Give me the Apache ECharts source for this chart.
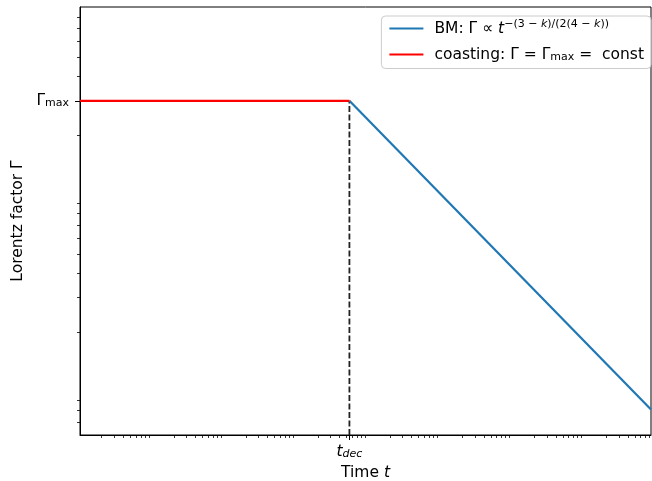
<!DOCTYPE html>
<html><head><meta charset="utf-8">
<script src="https://cdn.jsdelivr.net/npm/echarts@6/dist/echarts.min.js"></script>
<style>html,body{margin:0;padding:0;background:#fff}#c{width:652px;height:481px}</style>
</head><body><div id="c"></div>
<script>
// ---- data ----
const xRange = [1, 8.36e7];
const yRange = [6, 900];
const tDec = 5.47e3;
const gammaMax = 300;
const coastingT = [1, 5.47e3];
const coastingG = [300, 300];
const bmT = [5.47e3, 8.36e7];
const bmG = [300, 8.08];
const decLineT = [5.47e3, 5.47e3];
const decLineG = [6, 300];
const xMinorTicks = [
  2,3,4,5,6,7,8,9,
  20,30,40,50,60,70,80,90,
  200,300,400,500,600,700,800,900,
  2e3,3e3,4e3,5e3,6e3,7e3,8e3,9e3,
  2e4,3e4,4e4,5e4,6e4,7e4,8e4,9e4,
  2e5,3e5,4e5,5e5,6e5,7e5,8e5,9e5,
  2e6,3e6,4e6,5e6,6e6,7e6,8e6,9e6,
  2e7,3e7,4e7,5e7,6e7,7e7,8e7
];
const yMinorTicks = [7,8,9,20,30,40,50,60,70,80,90,200,400,500,600,700,800];
const xMajorTicks = [tDec];
const yMajorTicks = [gammaMax];

const FONT = 'DejaVu Sans';
const FS = 15.5;
const FSS = 11;
const pairs = (a, b) => a.map((v, i) => [v, b[i]]);

const chart = echarts.init(document.getElementById('c'), null, {renderer: 'canvas'});
const baseLog = {
  type: 'log', logBase: 10, min: xRange[0], max: xRange[1],
  splitLine: {show: false}, minorTick: {show: false}, minorSplitLine: {show: false}
};
chart.setOption({
  animation: false,
  backgroundColor: '#fff',
  grid: {left: 80, top: 7, right: 1, bottom: 46, containLabel: false, outerBoundsMode: 'none',
         show: true, borderColor: '#000', borderWidth: 1, backgroundColor: 'transparent'},
  legend: {
    data: ['BM', 'coasting'],
    orient: 'vertical', right: 1, top: 16,
    backgroundColor: 'rgba(255,255,255,0.8)',
    borderColor: '#cccccc', borderWidth: 1, borderRadius: 4,
    padding: [3, 7, 6, 8], itemGap: 10, itemWidth: 34, itemHeight: 2,
    icon: 'rect',
    textStyle: {
      fontFamily: FONT, fontSize: FS, color: '#000', padding: [0, 0, 0, 6],
      rich: {
        it: {fontFamily: FONT, fontSize: FS, fontStyle: 'italic', color: '#000'},
        sup: {fontFamily: FONT, fontSize: FSS, color: '#000', verticalAlign: 'bottom', padding: [0, 0, 8, 0]},
        supi: {fontFamily: FONT, fontSize: FSS, fontStyle: 'italic', color: '#000', verticalAlign: 'bottom', padding: [0, 0, 8, 0]},
        sub: {fontFamily: FONT, fontSize: FSS, color: '#000', verticalAlign: 'bottom', padding: [5, 0, 0, 0]}
      }
    },
    formatter: function (name) {
      if (name === 'BM') return 'BM: Γ ∝ {it|t}{sup|−(3 − }{supi|k}{sup|)/(2(4 − }{supi|k}{sup|))}';
      return 'coasting: Γ = Γ{sub|max} =  const';
    }
  },
  xAxis: [
    Object.assign({}, baseLog, {
      position: 'bottom',
      axisLine: {show: true, onZero: false, lineStyle: {color: '#000', width: 1}},
      axisTick: {show: true, customValues: xMajorTicks, length: 5, lineStyle: {color: '#000', width: 1}},
      axisLabel: {
        show: true, customValues: xMajorTicks, margin: 9, color: '#000',
        formatter: function () { return '{it|t}{sub|dec}'; },
        rich: {
          it: {fontFamily: FONT, fontSize: FS, fontStyle: 'italic', color: '#000'},
          sub: {fontFamily: FONT, fontSize: FSS, fontStyle: 'italic', color: '#000', verticalAlign: 'bottom', padding: [5, 0, 0, 0]}
        }
      },
      name: '{n|Time }{it|t}', nameLocation: 'middle', nameGap: 30,
      nameTextStyle: {
        rich: {
          n: {fontFamily: FONT, fontSize: FS, color: '#000'},
          it: {fontFamily: FONT, fontSize: FS, fontStyle: 'italic', color: '#000'}
        }
      }
    }),
    Object.assign({}, baseLog, {
      position: 'bottom',
      axisLine: {show: false, onZero: false},
      axisTick: {show: true, customValues: xMinorTicks, length: 3, lineStyle: {color: '#000', width: 0.8}},
      axisLabel: {show: false}
    })
  ],
  yAxis: [
    Object.assign({}, baseLog, {
      min: yRange[0], max: yRange[1], position: 'left',
      axisLine: {show: true, onZero: false, lineStyle: {color: '#000', width: 1}},
      axisTick: {show: true, customValues: yMajorTicks, length: 5, lineStyle: {color: '#000', width: 1}},
      axisLabel: {
        show: true, customValues: yMajorTicks, margin: 11, color: '#000',
        formatter: function () { return '{g|Γ}{sub|max}'; },
        rich: {
          g: {fontFamily: FONT, fontSize: FS, color: '#000'},
          sub: {fontFamily: FONT, fontSize: FSS, color: '#000', verticalAlign: 'bottom', padding: [5, 0, 0, 0]}
        }
      },
      name: 'Lorentz factor Γ', nameLocation: 'middle', nameRotate: 90, nameGap: 51,
      nameTextStyle: {fontFamily: FONT, fontSize: FS, color: '#000'}
    }),
    Object.assign({}, baseLog, {
      min: yRange[0], max: yRange[1], position: 'left',
      axisLine: {show: false, onZero: false},
      axisTick: {show: true, customValues: yMinorTicks, length: 3, lineStyle: {color: '#000', width: 0.8}},
      axisLabel: {show: false}
    })
  ],
  series: [
    {
      name: 'BM', type: 'line', xAxisIndex: 0, yAxisIndex: 0,
      data: pairs(bmT, bmG), symbol: 'none', showSymbol: false,
      lineStyle: {color: '#1f77b4', width: 2.2}, itemStyle: {color: '#1f77b4'}, z: 3
    },
    {
      name: 'coasting', type: 'line', xAxisIndex: 0, yAxisIndex: 0,
      data: pairs(coastingT, coastingG), symbol: 'none', showSymbol: false,
      lineStyle: {color: '#ff0000', width: 2.2}, itemStyle: {color: '#ff0000'}, z: 4
    },
    {
      name: 'tdec', type: 'line', xAxisIndex: 0, yAxisIndex: 0,
      data: pairs(decLineT, decLineG), symbol: 'none', showSymbol: false,
      lineStyle: {color: '#222', width: 1.8, type: [6, 2.5]}, itemStyle: {color: '#222'}, z: 2
    }
  ]
});
</script></body></html>
